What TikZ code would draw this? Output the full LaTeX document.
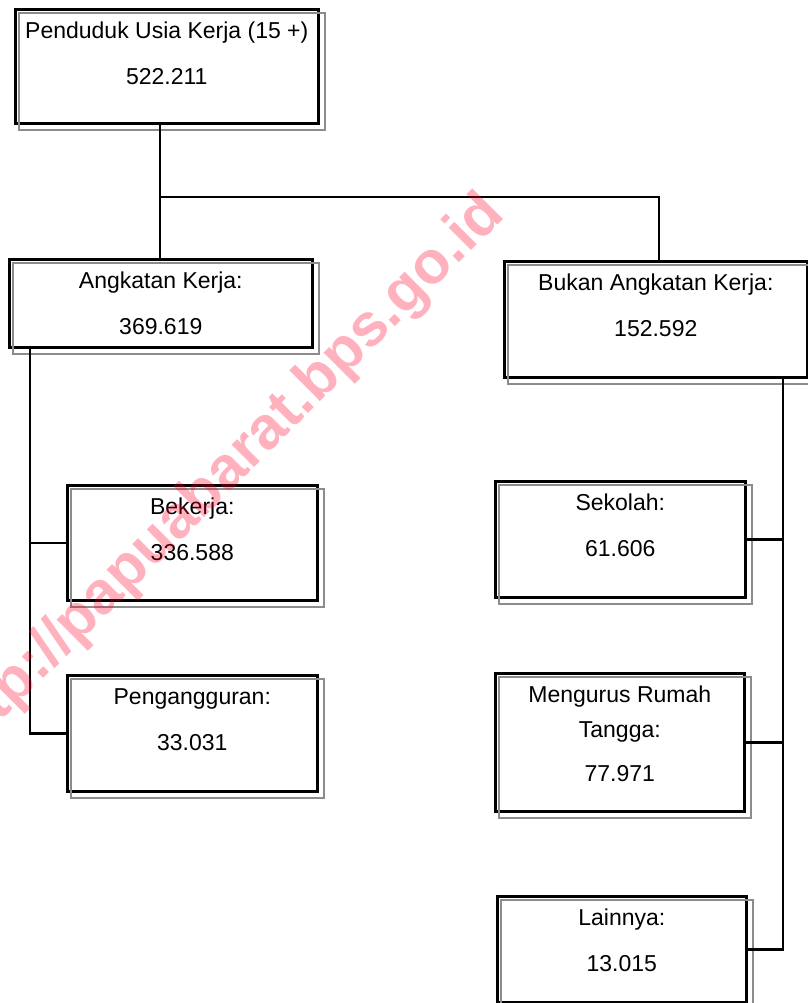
\documentclass[tikz,border=0pt]{standalone}
\usepackage{fontspec}
\setmainfont{Liberation Sans}
\usetikzlibrary{positioning}

\tikzset{
  box/.style={draw, line width=2.6pt, anchor=north west, inner sep=0pt},
  shade/.style={draw={rgb,255:red,140;green,140;blue,140}, line width=2pt},
  txt/.style={font=\fontsize{23}{35}\selectfont, align=center, inner sep=0pt},
  link/.style={line width=2.4pt},
}

\begin{document}
\begin{tikzpicture}[x=1pt,y=-1pt]

\useasboundingbox (0,0) rectangle (807,1003);

% boxes
\node[box, minimum width=303pt, minimum height=114pt] (puk) at (14,8) {};
\node[box, minimum width=303pt, minimum height=88pt] (ak) at (8,258) {};
\node[box, minimum width=303pt, minimum height=116pt] (bak) at (503,260) {};
\node[box, minimum width=250pt, minimum height=115pt] (kerja) at (66,484) {};
\node[box, minimum width=250pt, minimum height=116pt] (nganggur) at (66,674) {};
\node[box, minimum width=250pt, minimum height=116pt] (sekolah) at (494,480) {};
\node[box, minimum width=249pt, minimum height=138pt] (urt) at (494,672) {};
\node[box, minimum width=249pt, minimum height=106pt] (lain) at (496,895) {};

\foreach \b in {puk,ak,bak,kerja,nganggur,sekolah,urt,lain}
  \draw[shade] ([shift={(5,5)}]\b.north west) rectangle ([shift={(5,5)}]\b.south east);

% texts
\node[txt, below=14pt of puk.north] (tpuk) {Penduduk Usia Kerja (15 +)\\[11pt]522.211};
\node[txt, below=14pt of ak.north] (tak) {Angkatan Kerja:\\[11pt]369.619};
\node[txt, below=14pt of bak.north] (tbak) {Bukan Angkatan Kerja:\\[11pt]152.592};
\node[txt, below=14pt of kerja.north] (tkerja) {Bekerja:\\[11pt]336.588};
\node[txt, below=14pt of nganggur.north] (tnganggur) {Pengangguran:\\[11pt]33.031};
\node[txt, below=14pt of sekolah.north] (tsekolah) {Sekolah:\\[11pt]61.606};
\node[txt, below=14pt of urt.north] (turt) {Mengurus Rumah\\Tangga:\\[9pt]77.971};
\node[txt, below=14pt of lain.north] (tlain) {Lainnya:\\[11pt]13.015};

% connectors
\coordinate (jl) at (160,197);
\coordinate (jr) at (659,197);
\coordinate (bl) at (30,0);
\coordinate (br) at (783,0);

\draw[link] (puk.south -| jl) -- (jl) -- (jr) -- (jr |- bak.north);
\draw[link] (jl) -- (jl |- ak.north);

\draw[link] (ak.south -| bl) |- (nganggur.west);
\draw[link] (bl |- kerja.west) -- (kerja.west);

\draw[link] (bak.south -| br) |- (lain.east);
\draw[link] (br |- sekolah.east) -- (sekolah.east);
\draw[link] (br |- urt.east) -- (urt.east);

% watermark
\begin{scope}
\clip (0,0) rectangle (807,1003);
\node[rotate=45, anchor=base east, inner sep=0pt, text={rgb,255:red,255;green,0;blue,40}, text opacity=0.3,
  font=\fontsize{60}{60}\selectfont\bfseries] (wm) at (506,216) {http://papuabarat.bps.go.id};
\end{scope}

\end{tikzpicture}
\end{document}
